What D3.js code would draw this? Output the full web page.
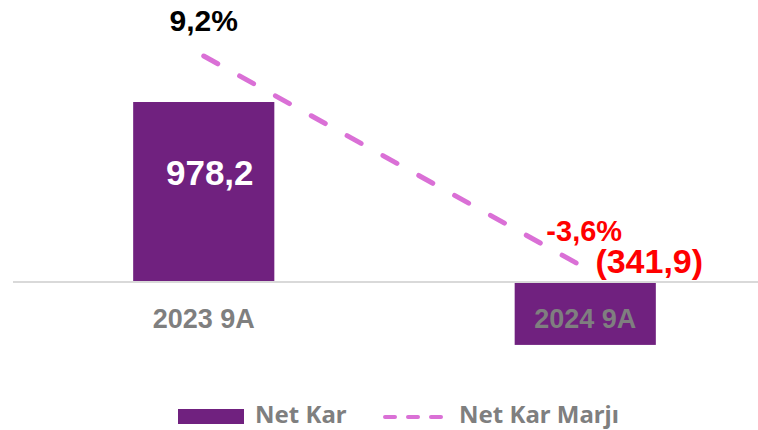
<!DOCTYPE html>
<html>
<head>
<meta charset="utf-8">
<script src="https://cdn.jsdelivr.net/npm/d3@7"></script>
<style>
  body { margin: 0; background: #fff; }
  svg { display: block; font-family: "Liberation Sans", Arial, sans-serif; font-weight: bold; }
  .legend text { font-family: "Noto Sans", "Open Sans", sans-serif; }
</style>
</head>
<body>
<svg></svg>
<script>
var categories = ["2023 9A", "2024 9A"];
var netKar = [978.2, -341.9];
var netKarMarji = [9.2, -3.6];
var barLabels = ["978,2", "(341,9)"];
var marjiLabels = ["9,2%", "-3,6%"];
var legendNames = ["Net Kar", "Net Kar Marjı"];

var width = 758,
  height = 430;

var barColor = "#70217f",
  lineColor = "#da70d6";

var svg = d3.select("svg")
  .attr("width", width)
  .attr("height", height);

var x = d3.scaleBand()
  .domain(categories)
  .range([13, 776])
  .paddingInner(0.63)
  .paddingOuter(0.315);

var y = d3.scaleLinear()
  .domain([-500, 1000])
  .range([374, 98]);

var y2 = d3.scaleLinear()
  .domain([-6, 10])
  .range([307.75, 42.75]);

// bars
svg.selectAll("rect.bar")
  .data(netKar)
  .enter().append("rect")
  .attr("class", "bar")
  .attr("x", function(d, i) { return x(categories[i]); })
  .attr("y", function(d) { return y(Math.max(0, d)); })
  .attr("width", x.bandwidth())
  .attr("height", function(d) { return Math.abs(y(d) - y(0)); })
  .attr("fill", barColor);

// zero line
svg.append("line")
  .attr("x1", 13)
  .attr("x2", width)
  .attr("y1", y(0))
  .attr("y2", y(0))
  .attr("stroke", "#d9d9d9")
  .attr("stroke-width", 2);

// category labels
svg.selectAll("text.cat")
  .data(categories)
  .enter().append("text")
  .attr("class", "cat")
  .attr("x", function(d) { return x(d) + x.bandwidth() / 2; })
  .attr("y", 328)
  .attr("text-anchor", "middle")
  .attr("fill", "#7f7f7f")
  .attr("font-size", "27px")
  .text(function(d) { return d; });

// margin line
var line = d3.line()
  .x(function(d, i) { return x(categories[i]) + x.bandwidth() / 2; })
  .y(function(d) { return y2(d); });

svg.append("path")
  .datum(netKarMarji)
  .attr("d", line)
  .attr("fill", "none")
  .attr("stroke", lineColor)
  .attr("stroke-width", 5)
  .attr("stroke-linecap", "round")
  .attr("stroke-dasharray", "16,25");

// bar value labels
svg.append("text")
  .attr("x", x(categories[0]) + x.bandwidth() / 2 + 6)
  .attr("y", 185)
  .attr("text-anchor", "middle")
  .attr("fill", "#fff")
  .attr("font-size", "35px")
  .text(barLabels[0]);

svg.append("text")
  .attr("x", x(categories[1]) + x.bandwidth() / 2 + 64)
  .attr("y", y(0) - 9)
  .attr("text-anchor", "middle")
  .attr("fill", "#ff0000")
  .attr("font-size", "34px")
  .text(barLabels[1]);

// margin labels
svg.append("text")
  .attr("x", x(categories[0]) + x.bandwidth() / 2)
  .attr("y", y2(netKarMarji[0]) - 25)
  .attr("text-anchor", "middle")
  .attr("fill", "#000")
  .attr("font-size", "30px")
  .text(marjiLabels[0]);

svg.append("text")
  .attr("x", x(categories[1]) + x.bandwidth() / 2 - 1)
  .attr("y", y2(netKarMarji[1]) - 27)
  .attr("text-anchor", "middle")
  .attr("fill", "#ff0000")
  .attr("font-size", "29px")
  .text(marjiLabels[1]);

// legend
var legend = svg.append("g").attr("class", "legend");
legend.append("rect")
  .attr("x", 178)
  .attr("y", 409)
  .attr("width", 66)
  .attr("height", 15)
  .attr("fill", barColor);
legend.append("text")
  .attr("x", 255)
  .attr("y", 423)
  .attr("fill", "#7f7f7f")
  .attr("font-size", "24px")
  .text(legendNames[0]);
legend.append("line")
  .attr("x1", 385)
  .attr("x2", 443)
  .attr("y1", 417)
  .attr("y2", 417)
  .attr("stroke", lineColor)
  .attr("stroke-width", 4)
  .attr("stroke-linecap", "round")
  .attr("stroke-dasharray", "10,13");
legend.append("text")
  .attr("x", 459)
  .attr("y", 423)
  .attr("fill", "#7f7f7f")
  .attr("font-size", "24px")
  .text(legendNames[1]);
</script>
</body>
</html>
